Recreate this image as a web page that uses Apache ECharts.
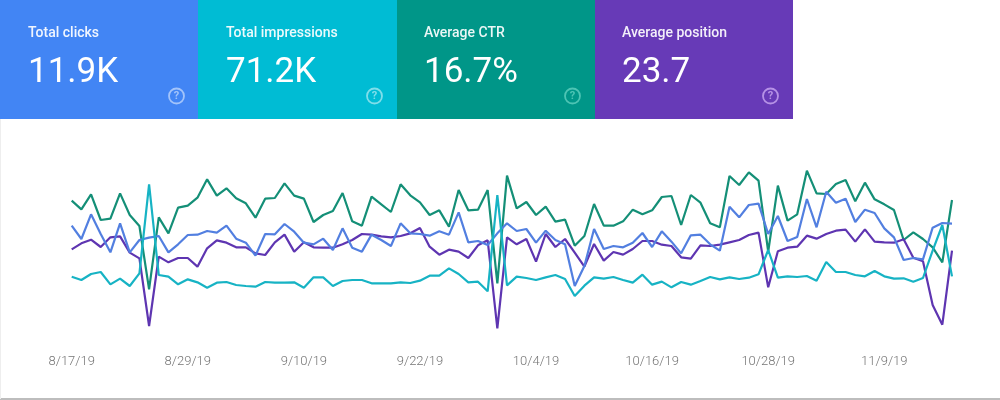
<!DOCTYPE html>
<html>
<head>
<meta charset="utf-8">
<title>Search performance</title>
<style>
  html, body { margin: 0; padding: 0; background: #fff; }
  #chart { width: 1000px; height: 400px; }
</style>
<script src="https://cdn.jsdelivr.net/npm/echarts@6/dist/echarts.min.js"></script>
</head>
<body>
<div id="chart"></div>
<script>
const clicks = [
  328,288,362,303,248,335,248,285,292,297,248,272,300,301,312,307,328,289,277,238,303,302,333,
  310,277,272,289,255,320,262,250,301,285,267,335,305,303,298,311,301,368,278,282,270,305,335,
  312,318,277,313,285,272,147,207,318,258,267,263,277,306,264,311,280,245,299,301,272,253,385,
  353,390,394,303,357,282,294,408,323,430,397,409,339,376,366,320,293,225,231,227,322,336,334
]
const impressions = [
  175,165,183,189,152,169,147,185,452,180,175,152,167,158,142,157,159,150,147,145,159,157,157,
  158,142,173,173,147,162,165,165,155,155,155,158,156,163,178,178,200,183,158,160,131,420,149,
  175,171,165,173,180,168,117,148,173,169,174,165,157,181,151,160,143,159,151,162,174,167,173,
  168,172,182,255,172,176,174,177,163,219,189,189,180,176,192,176,169,170,160,171,253,330,176
]
const ctr = [
  403,377,422,345,349,425,360,327,137,353,305,382,388,412,467,418,440,410,395,352,409,411,455,
  418,409,339,360,372,426,341,328,415,392,369,452,419,398,360,374,325,435,374,376,435,155,478,
  380,399,360,385,340,346,268,297,393,328,328,341,376,362,374,414,417,330,420,397,335,323,477,
  450,488,463,250,448,343,362,493,425,423,453,465,401,457,407,392,375,285,308,288,263,218,405
]
const position = [
  257,275,286,264,293,296,247,230,27,235,218,231,231,205,260,284,277,263,263,245,240,278,301,
  250,278,263,262,262,272,285,303,301,296,293,297,305,321,265,241,256,250,231,269,284,20,293,
  272,288,220,303,264,288,247,205,273,223,249,241,258,282,282,271,267,233,229,269,267,271,278,
  285,300,307,143,251,262,265,298,289,303,313,316,280,317,280,278,277,287,232,221,90,31,253
]

const cardTitles = ['Total clicks', 'Total impressions', 'Average CTR', 'Average position']
const cardValues = ['11.9K', '71.2K', '16.7%', '23.7']
const cardColors = ['#4285f4', '#00bcd4', '#009688', '#673ab7']
const ringColors = ['#a3c4fa', '#80deea', '#4dc4b4', '#b692e6']
const cardEdges = [0, 198, 397, 595, 793]

// one label every 12 days, same as the Search Console axis
const dates = []
const day = new Date(2019, 7, 17)
for (let i = 0; i < clicks.length; i++) {
  dates.push(`${day.getMonth() + 1}/${day.getDate()}/${String(day.getFullYear()).slice(2)}`)
  day.setDate(day.getDate() + 1)
}

const cards = cardTitles.flatMap((title, i) => {
  const left = i * 198
  return [
    {
      type: 'rect',
      shape: { x: cardEdges[i], y: 0, width: cardEdges[i + 1] - cardEdges[i], height: 119 },
      style: { fill: cardColors[i] }
    },
    {
      type: 'text',
      x: left + 28,
      y: 33.5,
      style: {
        text: title,
        fill: '#fff',
        font: '500 14px Roboto',
        verticalAlign: 'middle',
        opacity: 0.92
      }
    },
    {
      type: 'text',
      x: left + 28,
      y: 73.5,
      style: {
        text: cardValues[i],
        fill: '#fff',
        font: '400 35px Roboto',
        verticalAlign: 'middle'
      }
    },
    {
      type: 'circle',
      shape: { cx: left + 176.5, cy: 96, r: 7.5 },
      style: { fill: 'none', stroke: ringColors[i], lineWidth: 1.8 }
    },
    {
      type: 'text',
      x: left + 176.5,
      y: 96.5,
      style: {
        text: '?',
        fill: ringColors[i],
        font: '700 11px Roboto',
        align: 'center',
        verticalAlign: 'middle'
      }
    }
  ]
})

const lineSeries = (name, data, color) => ({
  name,
  type: 'line',
  data,
  symbol: 'none',
  silent: true,
  lineStyle: { color, width: 2.2 }
})

const myChart = echarts.init(document.getElementById('chart'))

myChart.setOption({
  animation: false,
  backgroundColor: '#fff',
  grid: { left: 71.7, right: 48, top: 160, bottom: 65 },
  xAxis: {
    type: 'category',
    data: dates,
    boundaryGap: false,
    axisLine: { show: false },
    axisTick: { show: false },
    axisLabel: {
      interval: 11,
      margin: 20,
      color: '#757575',
      fontFamily: 'Roboto',
      fontWeight: 300,
      fontSize: 13
    }
  },
  yAxis: { type: 'value', min: 0, max: 525, show: false },
  series: [
    lineSeries('Average CTR', ctr, '#148f77'),
    lineSeries('Average position', position, '#5e35b1'),
    lineSeries('Total clicks', clicks, '#527fe0'),
    lineSeries('Total impressions', impressions, '#17b3c4')
  ],
  graphic: [
    ...cards,
    {
      type: 'rect',
      shape: { x: 0, y: 398, width: 1000, height: 2 },
      style: { fill: '#bdbdbd' }
    },
    {
      type: 'rect',
      shape: { x: 0, y: 119, width: 1, height: 280 },
      style: { fill: '#eeeeee' }
    }
  ]
})
</script>
</body>
</html>
